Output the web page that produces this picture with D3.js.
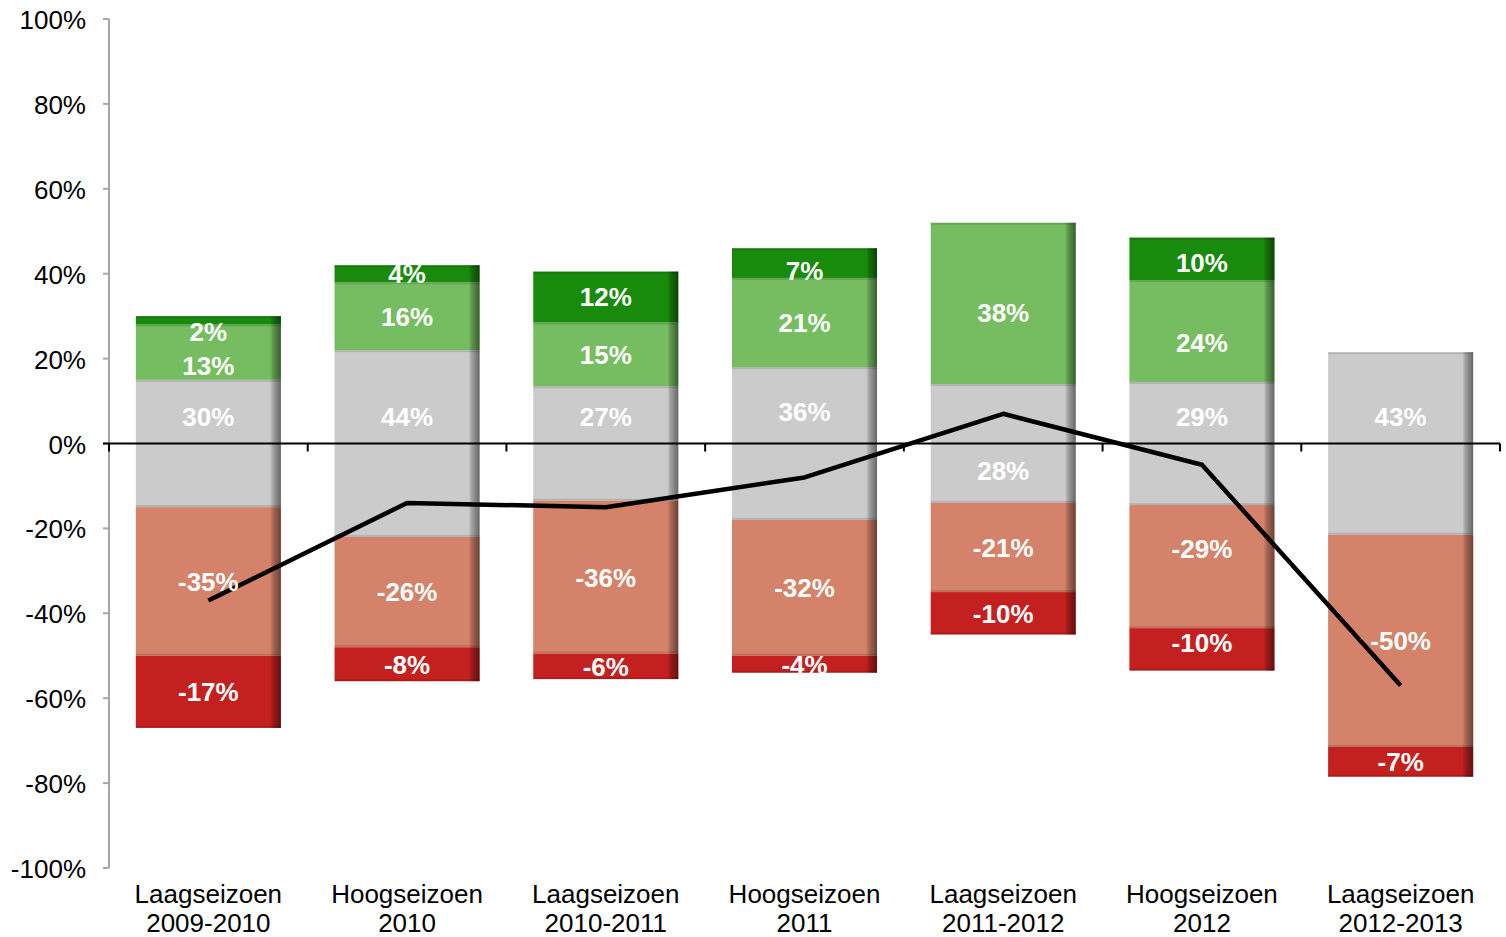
<!DOCTYPE html>
<html>
<head>
<meta charset="utf-8">
<script src="https://cdn.jsdelivr.net/npm/d3@7"></script>
<style>
  html, body { margin: 0; padding: 0; background: #ffffff; }
  svg { display: block; }
  text { font-family: "Liberation Sans", Arial, sans-serif; }
</style>
</head>
<body>
<script>
// Seasonal score distribution per season (percent of respondents)
const categories = [
  ["Laagseizoen", "2009-2010"],
  ["Hoogseizoen", "2010"],
  ["Laagseizoen", "2010-2011"],
  ["Hoogseizoen", "2011"],
  ["Laagseizoen", "2011-2012"],
  ["Hoogseizoen", "2012"],
  ["Laagseizoen", "2012-2013"]
];
const muchBetter  = [2, 4, 12, 7, 0, 10, 0];
const better      = [13, 16, 15, 21, 38, 24, 0];
const neutral     = [30, 44, 27, 36, 28, 29, 43];
const worse       = [-35, -26, -36, -32, -21, -29, -50];
const muchWorse   = [-17, -8, -6, -4, -10, -10, -7];
const netScore    = [-37, -14, -15, -8, 7, -5, -57];
const yTicks      = [-100, -80, -60, -40, -20, 0, 20, 40, 60, 80, 100];

// Neutral label sits above the zero line, except where the net line would cover it
const neutralLabelSide = [1, 1, 1, 1, -1, 1, 1];

const W = 1506, H = 937;
const margin = { left: 109, right: 6, top: 19, bottom: 69 };

const svg = d3.select("body").append("svg")
  .attr("width", W).attr("height", H);

const keys = ["neutralUp", "neutralDown", "better", "worse", "muchBetter", "muchWorse"];
const colors = {
  neutralUp: "#cbcbcb", neutralDown: "#cbcbcb",
  better: "#75bd60", muchBetter: "#188a0c",
  worse: "#d4826a", muchWorse: "#c42020"
};

const rows = categories.map((c, i) => ({
  cat: c.join(" "),
  neutralUp: neutral[i] / 2,
  neutralDown: -neutral[i] / 2,
  better: better[i],
  worse: worse[i],
  muchBetter: muchBetter[i],
  muchWorse: muchWorse[i]
}));

const series = d3.stack().keys(keys).offset(d3.stackOffsetDiverging)(rows);

const x = d3.scaleBand()
  .domain(rows.map(r => r.cat))
  .range([margin.left, W - margin.right])
  .paddingInner(0).paddingOuter(0);
const barW = x.bandwidth() * 0.73;
const barX = cat => x(cat) + (x.bandwidth() - barW) / 2;

const y = d3.scaleLinear().domain([-100, 100]).range([H - margin.bottom, margin.top]);

// Shading: darker strip on the right edge of each bar
const defs = svg.append("defs");
const shade = defs.append("linearGradient").attr("id", "rightShade")
  .attr("x1", 0).attr("x2", 1).attr("y1", 0).attr("y2", 0);
shade.append("stop").attr("offset", "0.925").attr("stop-color", "#000").attr("stop-opacity", 0);
shade.append("stop").attr("offset", "0.945").attr("stop-color", "#000").attr("stop-opacity", 0.2);
shade.append("stop").attr("offset", "1").attr("stop-color", "#000").attr("stop-opacity", 0.5);

// Y axis
const yAxis = svg.append("g").attr("class", "y-axis");
yAxis.append("line")
  .attr("x1", margin.left).attr("x2", margin.left)
  .attr("y1", y(100)).attr("y2", y(-100))
  .attr("stroke", "#a6a6a6").attr("stroke-width", 2);
yAxis.selectAll("line.tick").data(yTicks).join("line")
  .attr("class", "tick")
  .attr("x1", margin.left - 6).attr("x2", margin.left)
  .attr("y1", d => y(d)).attr("y2", d => y(d))
  .attr("stroke", "#a6a6a6").attr("stroke-width", 2);
yAxis.selectAll("text").data(yTicks).join("text")
  .attr("x", 86).attr("y", d => y(d) + 10)
  .attr("text-anchor", "end")
  .attr("font-size", 26)
  .attr("fill", "#000")
  .text(d => d + "%");

// Bars
const barsG = svg.append("g").attr("class", "bars");
series.forEach(s => {
  const g = barsG.append("g");
  const segs = s.map((d, i) => ({ key: s.key, i, y0: d[0], y1: d[1], cat: d.data.cat }))
    .filter(d => d.y0 !== d.y1);
  g.selectAll("rect.fill").data(segs).join("rect")
    .attr("class", "fill")
    .attr("x", d => barX(d.cat))
    .attr("width", barW)
    .attr("y", d => y(Math.max(d.y0, d.y1)))
    .attr("height", d => Math.abs(y(d.y0) - y(d.y1)))
    .attr("fill", colors[s.key]);
  g.selectAll("rect.shade").data(segs).join("rect")
    .attr("class", "shade")
    .attr("x", d => barX(d.cat))
    .attr("width", barW)
    .attr("y", d => y(Math.max(d.y0, d.y1)))
    .attr("height", d => Math.abs(y(d.y0) - y(d.y1)))
    .attr("fill", "url(#rightShade)");
  // soft edge at the outer end of each segment
  g.selectAll("rect.edge").data(segs).join("rect")
    .attr("class", "edge")
    .attr("x", d => barX(d.cat))
    .attr("width", barW)
    .attr("y", d => {
      const top = y(Math.max(d.y0, d.y1));
      const bot = y(Math.min(d.y0, d.y1));
      return (d.y1 > 0 || d.y0 > 0) ? top : bot - 2;
    })
    .attr("height", 2)
    .attr("fill", "#000").attr("opacity", 0.12);
});

// Category axis along zero
const xAxis = svg.append("g").attr("class", "x-axis");
xAxis.append("line")
  .attr("x1", margin.left - 6).attr("x2", W - margin.right)
  .attr("y1", y(0)).attr("y2", y(0))
  .attr("stroke", "#000").attr("stroke-width", 2);
const boundaries = rows.map(r => x(r.cat)).concat([x(rows[rows.length - 1].cat) + x.bandwidth()]);
xAxis.selectAll("line.tick").data(boundaries).join("line")
  .attr("class", "tick")
  .attr("x1", d => d).attr("x2", d => d)
  .attr("y1", y(0)).attr("y2", y(0) + 8)
  .attr("stroke", "#000").attr("stroke-width", 2);

// Category labels
const catG = svg.append("g").attr("class", "cat-labels");
rows.forEach((r, i) => {
  const cx = x(r.cat) + x.bandwidth() / 2;
  categories[i].forEach((line, j) => {
    catG.append("text")
      .attr("x", cx).attr("y", 903 + j * 29)
      .attr("text-anchor", "middle")
      .attr("font-size", 26)
      .attr("fill", "#000")
      .text(line);
  });
});

// Net score line
const line = d3.line()
  .x((d, i) => x(rows[i].cat) + x.bandwidth() / 2)
  .y(d => y(d));
svg.append("path")
  .datum(netScore)
  .attr("d", line)
  .attr("fill", "none")
  .attr("stroke", "#000")
  .attr("stroke-width", 4.5)
  .attr("stroke-linejoin", "round");

// Value labels
const labelNudge = {
  "muchBetter-0": 11, "better-0": 13, "muchBetter-3": 8,
  "better-4": 9, "muchBetter-5": 4, "better-5": 12, "worse-5": -18,
  "muchWorse-5": -7
};
const labelsG = svg.append("g").attr("class", "labels");
const labelData = [];
series.forEach(s => {
  s.forEach((d, i) => {
    const cx = x(d.data.cat) + x.bandwidth() / 2;
    if (s.key === "neutralUp" || s.key === "neutralDown") {
      const side = s.key === "neutralUp" ? 1 : -1;
      if (neutralLabelSide[i] !== side) return;
      const extra = i === 3 ? -5 : 0;
      labelData.push({ x: cx, y: y(0) - side * 27 + extra, text: neutral[i] + "%" });
    } else {
      const v = d.data[s.key];
      if (v === 0) return;
      const nudge = labelNudge[s.key + "-" + i] || 0;
      labelData.push({ x: cx, y: y((d[0] + d[1]) / 2) + nudge, text: v + "%" });
    }
  });
});
labelsG.selectAll("text").data(labelData).join("text")
  .attr("x", d => d.x).attr("y", d => d.y)
  .attr("dy", "0.36em")
  .attr("text-anchor", "middle")
  .attr("font-size", 26)
  .attr("font-weight", "bold")
  .attr("fill", "#ffffff")
  .text(d => d.text);
</script>
</body>
</html>
